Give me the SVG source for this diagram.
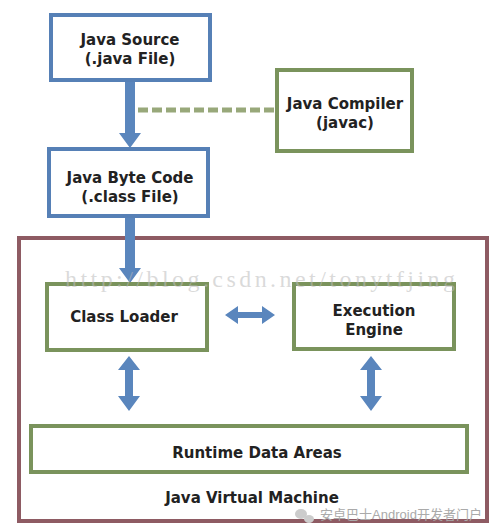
<svg xmlns="http://www.w3.org/2000/svg" width="493" height="531" viewBox="0 0 493 531">
<style>
.blue{fill:#fff;stroke:#5680b6;stroke-width:4}
.green{fill:#fff;stroke:#7a935c;stroke-width:4}
.jvm{fill:#fff;stroke:#8e5b63;stroke-width:4}
.t{font-family:"DejaVu Sans",Verdana,sans-serif;font-weight:bold;font-size:15px;fill:#222;text-anchor:middle}
.arr{fill:#5a86bd}
</style>
<rect width="493" height="531" fill="#fff"/>
<g id="jvm"><rect class="jvm" x="19" y="238" width="468" height="283"/>
<text class="t" x="252" y="503">Java Virtual Machine</text></g>
<g id="connectors">
<polygon class="arr" points="125,81 135,81 135,133 141,133 130,148 119,133 125,133"/>
<line x1="138" y1="110" x2="276" y2="110" stroke="#98a87a" stroke-width="5" stroke-dasharray="10,4"/>
<polygon class="arr" points="125,217 135,217 135,268 141,268 130,283 119,268 125,268"/>
<polygon class="arr" points="225,315 238,306 238,312 262,312 262,306 275,315 262,324 262,318 238,318 238,324"/>
<polygon class="arr" points="129,356 140,370 133,370 133,396 140,396 129,411 118,396 125,396 125,370 118,370"/>
<polygon class="arr" points="371,356 382,370 375,370 375,396 382,396 371,411 360,396 367,396 367,370 360,370"/>
</g>
<g id="java-source"><rect class="blue" x="51" y="15" width="159" height="65"/>
<text class="t" x="130" y="45">Java Source</text><text class="t" x="130" y="64">(.java File)</text></g>
<g id="java-compiler"><rect class="green" x="277" y="70" width="135" height="81"/>
<text class="t" x="345" y="109">Java Compiler</text><text class="t" x="345" y="128">(javac)</text></g>
<g id="java-byte-code"><rect class="blue" x="49" y="149" width="159" height="67"/>
<text class="t" x="130" y="183">Java Byte Code</text><text class="t" x="130" y="202">(.class File)</text></g>
<g id="class-loader"><rect class="green" x="47" y="284" width="160" height="66"/>
<text class="t" x="124" y="322">Class Loader</text></g>
<g id="execution-engine"><rect class="green" x="294" y="284" width="160" height="65"/>
<text class="t" x="374" y="316">Execution</text><text class="t" x="374" y="335">Engine</text></g>
<g id="runtime-data-areas"><rect class="green" x="31" y="426" width="436" height="46"/>
<text class="t" x="257" y="458">Runtime Data Areas</text></g>
<text x="65" y="287" font-family="'Liberation Serif',serif" font-size="24" fill="#bbb" fill-opacity="0.55" textLength="390" lengthAdjust="spacing">http://blog.csdn.net/tonytfjing</text>
<g fill="#ccc"><ellipse cx="301" cy="514" rx="6" ry="5"/><ellipse cx="309" cy="519" rx="5" ry="4"/></g>
<text x="401" y="519" font-family="'Liberation Sans','Noto Sans CJK SC',sans-serif" font-size="13" fill="#aaa" text-anchor="middle">安卓巴士Android开发者门户</text>
</svg>
